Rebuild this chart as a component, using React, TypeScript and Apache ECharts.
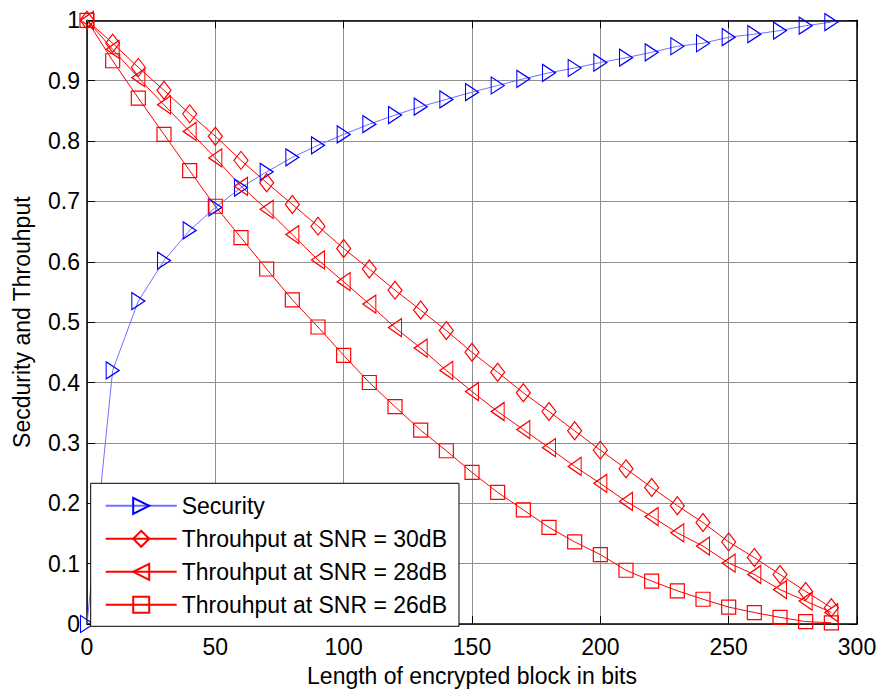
import React, { useEffect, useRef } from "react";
import * as echarts from "echarts";

const xValues = [0, 10, 20, 30, 40, 50, 60, 70, 80, 90, 100, 110, 120, 130, 140, 150, 160, 170, 180, 190, 200, 210, 220, 230, 240, 250, 260, 270, 280, 290];
const security = [0, 0.42, 0.535, 0.602, 0.652, 0.69, 0.723, 0.749, 0.773, 0.793, 0.811, 0.828, 0.843, 0.857, 0.869, 0.881, 0.892, 0.903, 0.913, 0.921, 0.93, 0.938, 0.947, 0.957, 0.962, 0.972, 0.977, 0.983, 0.991, 0.997];
const thr30 = [1, 0.962, 0.922, 0.884, 0.845, 0.808, 0.768, 0.731, 0.695, 0.659, 0.622, 0.588, 0.553, 0.52, 0.486, 0.45, 0.417, 0.383, 0.352, 0.32, 0.288, 0.257, 0.226, 0.196, 0.168, 0.136, 0.11, 0.082, 0.054, 0.027];
const thr28 = [1, 0.952, 0.905, 0.86, 0.816, 0.772, 0.725, 0.687, 0.645, 0.603, 0.567, 0.53, 0.491, 0.457, 0.42, 0.385, 0.352, 0.322, 0.292, 0.261, 0.233, 0.203, 0.178, 0.151, 0.129, 0.101, 0.082, 0.057, 0.038, 0.019];
const thr26 = [1, 0.933, 0.871, 0.811, 0.751, 0.692, 0.64, 0.588, 0.537, 0.492, 0.445, 0.4, 0.36, 0.321, 0.287, 0.251, 0.218, 0.189, 0.16, 0.136, 0.115, 0.089, 0.071, 0.055, 0.041, 0.028, 0.019, 0.011, 0.004, 0.002];
const seriesNames = ["Security", "Throuhput at SNR = 30dB", "Throuhput at SNR = 28dB", "Throuhput at SNR = 26dB"];

const FONT = "'Liberation Sans', Arial, sans-serif";
const FS = 23;

const pair = (ys: number[]) => xValues.map((x, i) => [x, ys[i]]);

export default function App() {
  const ref = useRef<HTMLDivElement>(null);
  useEffect(() => {
    if (!ref.current) return;
    const chart = echarts.init(ref.current, undefined, { renderer: "svg" });
    const frameAxis = {
      axisLine: { show: true, onZero: false, lineStyle: { color: "#000", width: 1.5 } },
      axisTick: { show: true, inside: true, length: 8, lineStyle: { color: "#000", width: 1 } },
      axisLabel: { show: false },
      splitLine: { show: false },
    };
    const red = "#ff0000";
    const mk = (name: string, data: number[], color: string, lineColor: string, symbol: string, size: number[]) => ({
      name,
      type: "line",
      data: pair(data),
      symbol,
      symbolSize: size,
      showSymbol: true,
      clip: false,
      lineStyle: { color: lineColor, width: 1 },
      itemStyle: { color: "rgba(255,255,255,0)", borderColor: color, borderWidth: 1.2 },
      emphasis: { disabled: true },
    });
    chart.setOption({
      animation: false,
      backgroundColor: "#fff",
      textStyle: { fontFamily: FONT },
      grid: { left: 87, top: 20.3, width: 770, height: 606.3, show: false },
      legend: {
        orient: "vertical",
        left: 90.7,
        top: 483.3,
        data: seriesNames,
        backgroundColor: "#fff",
        borderColor: "#000",
        borderWidth: 1,
        padding: [11, 12, 10, 14],
        itemWidth: 71,
        itemHeight: 20,
        itemGap: 10,
        textStyle: { fontFamily: FONT, fontSize: FS, color: "#000", lineHeight: 23 },
        selectedMode: false,
      },
      xAxis: [
        {
          type: "value",
          min: 0,
          max: 300,
          interval: 50,
          name: "Length of encrypted block in bits",
          nameLocation: "middle",
          nameGap: 40,
          nameTextStyle: { fontFamily: FONT, fontSize: FS, color: "#000" },
          axisLine: { show: true, onZero: false, lineStyle: { color: "#000", width: 1.5 } },
          axisTick: { show: true, inside: true, length: 8, lineStyle: { color: "#000" } },
          axisLabel: { fontFamily: FONT, fontSize: FS, color: "#000", margin: 11 },
          splitLine: { show: true, lineStyle: { color: "#8f8f8f", width: 1 } },
        },
        { type: "value", position: "top", min: 0, max: 300, interval: 50, ...frameAxis },
      ],
      yAxis: [
        {
          type: "value",
          min: 0,
          max: 1,
          interval: 0.1,
          name: "Secdurity and Throuhput",
          nameLocation: "middle",
          nameGap: 54,
          nameTextStyle: { fontFamily: FONT, fontSize: FS, color: "#000" },
          axisLine: { show: true, onZero: false, lineStyle: { color: "#000", width: 1.5 } },
          axisTick: { show: true, inside: true, length: 8, lineStyle: { color: "#000" } },
          axisLabel: { fontFamily: FONT, fontSize: FS, color: "#000", margin: 7 },
          splitLine: { show: true, lineStyle: { color: "#8f8f8f", width: 1 } },
        },
        { type: "value", position: "right", min: 0, max: 1, interval: 0.1, ...frameAxis },
      ],
      series: [
        mk(seriesNames[0], security, "#0000ff", "#7070ff", "path://M0,0L10,5L0,10Z", [13, 17]),
        mk(seriesNames[1], thr30, red, red, "diamond", [14, 18]),
        mk(seriesNames[2], thr28, red, red, "path://M10,0L0,5L10,10Z", [13, 18]),
        mk(seriesNames[3], thr26, red, red, "rect", [14, 14]),
      ],
    });
    return () => chart.dispose();
  }, []);
  return (
    <div
      ref={ref}
      style={{ position: "fixed", left: 0, top: 0, width: 881, height: 692, background: "#fff" }}
    />
  );
}
